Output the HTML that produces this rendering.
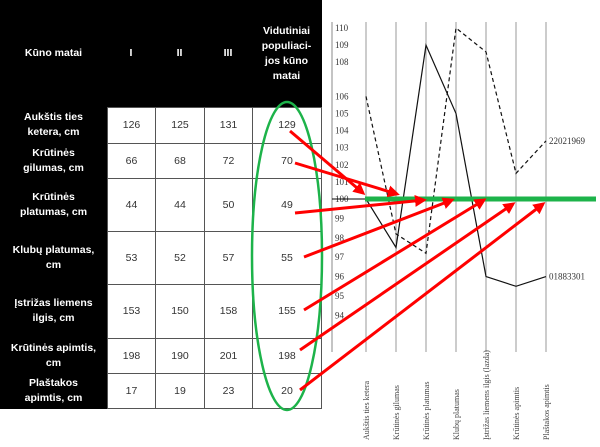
<!DOCTYPE html>
<html><head><meta charset="utf-8"><style>
body{margin:0;width:600px;height:447px;background:#fff;position:relative;overflow:hidden;font-family:"Liberation Sans",sans-serif}
.c{position:absolute;display:flex;align-items:center;justify-content:center;text-align:center;box-sizing:border-box;font-size:10.5px;line-height:15px}
.h{background:#000;color:#fff;font-weight:bold;padding:0 12px}
.d{background:#fff;color:#333;border:1px solid #555}
</style></head><body>
<div id="tbl" style="position:absolute;left:0;top:0;width:322px;height:409px;background:#000"></div>
<svg width="600" height="447" style="position:absolute;left:0;top:0" id="chart"></svg>
<script>
const colX=[0,107,155,204,252,321];
const rowY=[0,107,143,178,231,284,338,373,408];
const headers=["Kūno matai","I","II","III","Vidutiniai populiaci-jos kūno matai"];
const rowNames=["Aukštis ties ketera, cm","Krūtinės gilumas, cm","Krūtinės platumas, cm","Klubų platumas, cm","Įstrižas liemens ilgis, cm","Krūtinės apimtis, cm","Plaštakos apimtis, cm"];
const vals=[[126,125,131,129],[66,68,72,70],[44,44,50,49],[53,52,57,55],[153,150,158,155],[198,190,201,198],[17,19,23,20]];
const tbl=document.getElementById('tbl');
function cell(x0,y0,x1,y1,txt,cls,name,pad){const d=document.createElement('div');d.className='c '+cls;d.style.left=x0+'px';d.style.top=y0+'px';d.style.width=(x1-x0+(cls=='d'?1:0))+'px';d.style.height=(y1-y0+(cls=='d'?1:0))+'px';d.textContent=txt;if(pad!==undefined)d.style.padding='0 '+pad+'px';


tbl.appendChild(d);}
headers.forEach((h,i)=>cell(colX[i],0,colX[i+1],rowY[1],h,'h','header-'+i,i==4?10:4));
const pads=[16,14,14,4,10,4,14];
rowNames.forEach((r,j)=>{cell(0,rowY[j+1],colX[1],rowY[j+2],r,'h','row-label-'+j,pads[j]);
vals[j].forEach((v,i)=>cell(colX[i+1],rowY[j+1],colX[i+2],rowY[j+2],v,'d','value-cell'));});
const categories=["Aukštis ties ketera","Krūtinės gilumas","Krūtinės platumas","Klubų platumas","Įstrižas liemens ilgis (lazda)","Krūtinės apimtis","Plaštakos apimtis"];
const seriesSolid=[100,97.5,109,105,96,95.5,96];
const seriesDashed=[106,98.2,97.2,110,108.6,101.5,103.4];
const yTicks=[110,109,108,106,105,104,103,102,101,100,99,98,97,96,95,94];
const NS='http://www.w3.org/2000/svg';const svg=document.getElementById('chart');
const xS=i=>366+i*30;const yS=v=>v>=100?199-(v-100)*17.1:199+(100-v)*19.4;
function el(t,a,name){const e=document.createElementNS(NS,t);for(const k in a)e.setAttribute(k,a[k]);


svg.appendChild(e);return e;}
el('line',{x1:332,y1:22,x2:332,y2:352,stroke:'#888','stroke-width':1},'y-axis');
categories.forEach((c,i)=>{el('line',{x1:xS(i),y1:22,x2:xS(i),y2:352,stroke:'#999','stroke-width':1},'category-gridline');
const t=el('text',{x:0,y:0,transform:`translate(${xS(i)+3},440) rotate(-90)`,'font-size':'8','font-family':'Liberation Serif, serif',fill:'#444'},'category-label');t.textContent=c;});
yTicks.forEach(v=>{const t=el('text',{x:335,y:yS(v)+3,'font-size':'9','font-family':'Liberation Serif, serif',fill:'#333'},'y-tick-label');t.textContent=v;});
el('line',{x1:332,y1:yS(100),x2:366,y2:yS(100),stroke:'#000','stroke-width':1},'baseline');
const pts=s=>s.map((v,i)=>xS(i)+','+yS(v)).join(' ');
el('polyline',{points:pts(seriesSolid),fill:'none',stroke:'#111','stroke-width':1.2},'series-01883301');
el('polyline',{points:pts(seriesDashed),fill:'none',stroke:'#111','stroke-width':1.2,'stroke-dasharray':'4,3'},'series-22021969');
let t=el('text',{x:549,y:yS(103.4)+3,'font-size':'9','font-family':'Liberation Serif, serif',fill:'#333'},'series-label-22021969');t.textContent='22021969';
t=el('text',{x:549,y:yS(96)+3,'font-size':'9','font-family':'Liberation Serif, serif',fill:'#333'},'series-label-01883301');t.textContent='01883301';
el('line',{x1:365,y1:yS(100),x2:596,y2:yS(100),stroke:'#1db34a','stroke-width':5},'average-line');
el('ellipse',{cx:287,cy:256,rx:35,ry:154,fill:'none',stroke:'#1db34a','stroke-width':2.5},'highlight-ellipse');
const defs=el('defs',{},'defs');defs.innerHTML='<marker id="ah" markerWidth="4" markerHeight="4" refX="3" refY="2" orient="auto"><path d="M0,0 L4,2 L0,4 z" fill="#f00"/></marker>';
const arrows=[[290,131,363,193],[295,163,397,194],[295,213,424,200],[304,257,452,200],[304,310,484,200],[300,350,513,204],[300,390,543,204]];
arrows.forEach(a=>el('line',{x1:a[0],y1:a[1],x2:a[2],y2:a[3],stroke:'#f00','stroke-width':3,'marker-end':'url(#ah)'},'pointer-arrow'));
</script>
</body></html>
